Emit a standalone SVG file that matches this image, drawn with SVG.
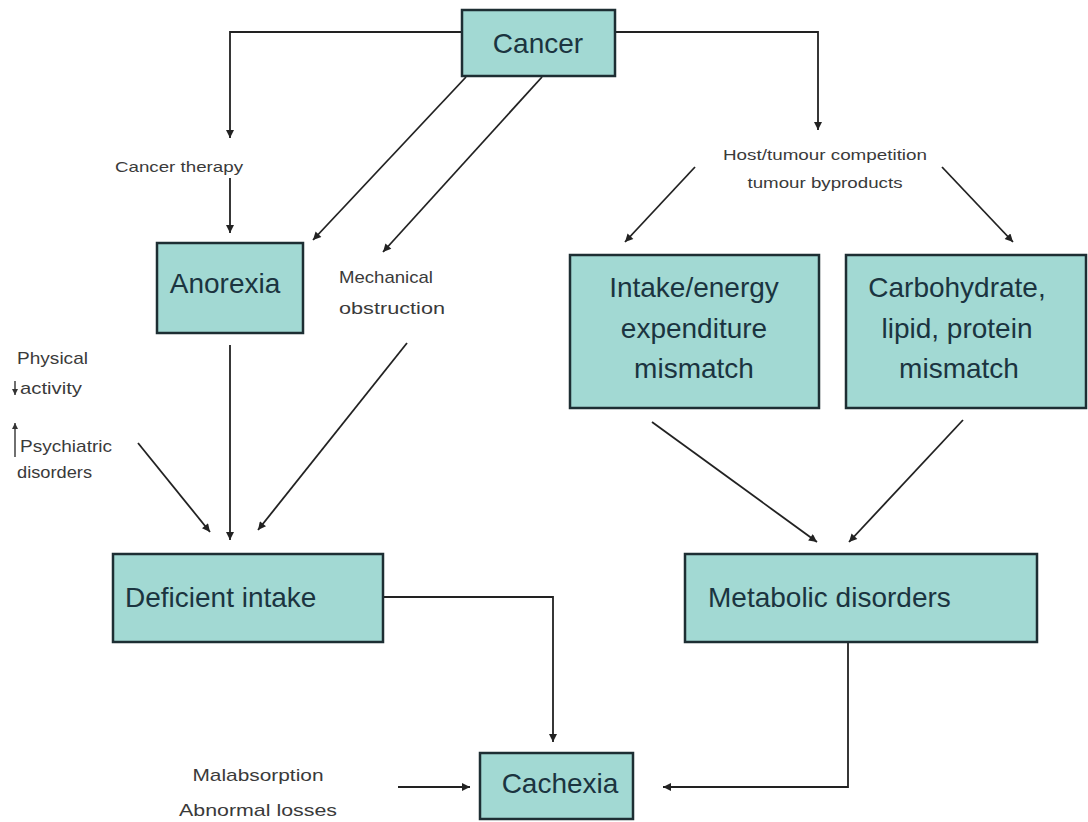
<svg xmlns="http://www.w3.org/2000/svg" width="1088" height="822" viewBox="0 0 1088 822">
<defs>
<marker id="ah" viewBox="0 0 10 10" refX="10" refY="5" markerWidth="9" markerHeight="8" markerUnits="userSpaceOnUse" orient="auto">
<path d="M0,0 L10,5 L0,10 z" fill="#222"/>
</marker>
<marker id="ahs" viewBox="0 0 10 10" refX="10" refY="5" markerWidth="6" markerHeight="6" markerUnits="userSpaceOnUse" orient="auto">
<path d="M0,0 L10,5 L0,10 z" fill="#333"/>
</marker>
</defs>
<style>
.box{fill:#a2d9d3;stroke:#1d2e33;stroke-width:2.5}
.big{font-family:"Liberation Sans",Arial,sans-serif;font-size:28px;fill:#1b3440}
.sm{font-family:"Liberation Sans",Arial,sans-serif;font-size:15px;fill:#3a3a3a}
.md{font-family:"Liberation Sans",Arial,sans-serif;font-size:17px;fill:#3a3a3a}
.c{fill:none;stroke:#222;stroke-width:1.8}
.ca{fill:none;stroke:#222;stroke-width:1.8;marker-end:url(#ah)}
.tiny{fill:none;stroke:#333;stroke-width:1.4;marker-end:url(#ahs)}
</style>
<rect width="1088" height="822" fill="#ffffff"/>

<g id="connectors">
<path class="ca" d="M462,32 H230 V138"/>
<path class="ca" d="M230,178 V233"/>
<path class="ca" d="M615,32 H818 V130"/>
<path class="ca" d="M466,77 L313,240"/>
<path class="ca" d="M542,77 L383,252"/>
<path class="ca" d="M230,345 V540"/>
<path class="ca" d="M407,343 L258,530"/>
<path class="ca" d="M138,443 L210,532"/>
<path class="ca" d="M695,167 L625,242"/>
<path class="ca" d="M942,167 L1013,242"/>
<path class="ca" d="M652,422 L817,542"/>
<path class="ca" d="M963,420 L849,542"/>
<path class="ca" d="M383,597 H553 V742"/>
<path class="ca" d="M848,642 V787 H663"/>
<path class="ca" d="M398,787 H470"/>
<path class="tiny" d="M15,381 V395"/>
<path class="tiny" d="M15,457 V423"/>
</g>

<g id="cancer">
<rect class="box" x="462" y="10" width="153" height="66"/>
<text class="big" x="538" y="53" text-anchor="middle">Cancer</text>
</g>

<g id="cancer-therapy">
<text class="sm" x="115" y="172" textLength="128" lengthAdjust="spacingAndGlyphs">Cancer therapy</text>
</g>

<g id="host-tumour">
<text class="sm" x="825" y="160" text-anchor="middle" textLength="204" lengthAdjust="spacingAndGlyphs">Host/tumour competition</text>
<text class="sm" x="825" y="188" text-anchor="middle" textLength="155" lengthAdjust="spacingAndGlyphs">tumour byproducts</text>
</g>

<g id="anorexia">
<rect class="box" x="157" y="243" width="146" height="90"/>
<text class="big" x="225" y="293" text-anchor="middle">Anorexia</text>
</g>

<g id="mechanical">
<text class="md" x="339" y="283" textLength="94" lengthAdjust="spacingAndGlyphs">Mechanical</text>
<text class="md" x="339" y="314" textLength="106" lengthAdjust="spacingAndGlyphs">obstruction</text>
</g>

<g id="intake-energy">
<rect class="box" x="570" y="255" width="249" height="153"/>
<text class="big" x="694" y="297" text-anchor="middle">Intake/energy</text>
<text class="big" x="694" y="338" text-anchor="middle">expenditure</text>
<text class="big" x="694" y="378" text-anchor="middle">mismatch</text>
</g>

<g id="carbohydrate">
<rect class="box" x="846" y="255" width="240" height="153"/>
<text class="big" x="957" y="297" text-anchor="middle">Carbohydrate,</text>
<text class="big" x="957" y="338" text-anchor="middle">lipid, protein</text>
<text class="big" x="959" y="378" text-anchor="middle">mismatch</text>
</g>

<g id="physical-psychiatric">
<text class="md" x="17" y="364" textLength="71" lengthAdjust="spacingAndGlyphs">Physical</text>
<text class="md" x="20" y="394" textLength="62" lengthAdjust="spacingAndGlyphs">activity</text>
<text class="md" x="20" y="452" textLength="92" lengthAdjust="spacingAndGlyphs">Psychiatric</text>
<text class="md" x="17" y="478" textLength="75" lengthAdjust="spacingAndGlyphs">disorders</text>
</g>

<g id="deficient-intake">
<rect class="box" x="113" y="554" width="270" height="88"/>
<text class="big" x="125" y="607">Deficient intake</text>
</g>

<g id="metabolic-disorders">
<rect class="box" x="685" y="554" width="352" height="88"/>
<text class="big" x="708" y="607">Metabolic disorders</text>
</g>

<g id="malabsorption">
<text class="md" x="258" y="781" text-anchor="middle" textLength="131" lengthAdjust="spacingAndGlyphs">Malabsorption</text>
<text class="md" x="258" y="816" text-anchor="middle" textLength="158" lengthAdjust="spacingAndGlyphs">Abnormal losses</text>
</g>

<g id="cachexia">
<rect class="box" x="480" y="753" width="153" height="66"/>
<text class="big" x="560" y="793" text-anchor="middle">Cachexia</text>
</g>
</svg>
